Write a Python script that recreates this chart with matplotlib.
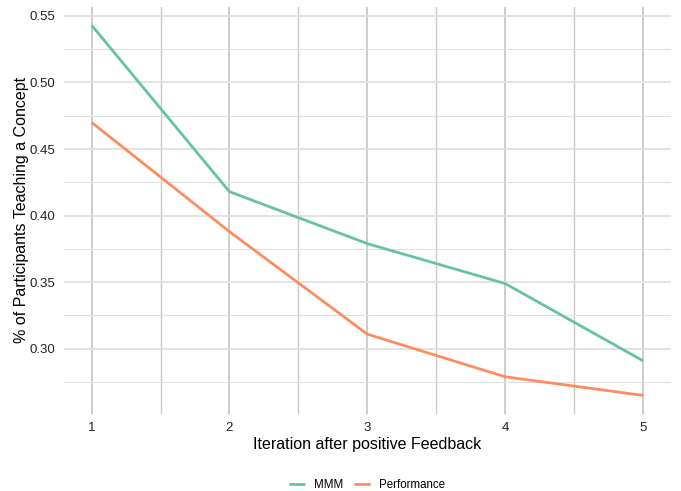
import matplotlib
matplotlib.use("Agg")
import matplotlib.pyplot as plt
from matplotlib.ticker import MultipleLocator

plt.rcParams['font.family'] = ['Liberation Sans', 'DejaVu Sans']

# 数据：从图中读取
iterations = [1, 2, 3, 4, 5]
mmm = [0.543, 0.418, 0.379, 0.349, 0.291]
performance = [0.470, 0.388, 0.311, 0.279, 0.265]

series_names = ["MMM", "Performance"]
series_colors = ["#66C2A5", "#FC8D62"]

fig = plt.figure(figsize=(6.81, 4.91), dpi=100)
ax = fig.add_axes([0.094, 0.157, 0.8906, 0.8294])

for values, name, color in zip([mmm, performance], series_names, series_colors):
    ax.plot(iterations, values, color=color, linewidth=2.0, label=name,
            solid_capstyle="butt", zorder=3)

ax.set_xlim(0.8, 5.2)
ax.set_ylim(0.2511, 0.5569)

ax.xaxis.set_major_locator(MultipleLocator(1))
ax.xaxis.set_minor_locator(MultipleLocator(0.5))
ax.yaxis.set_major_locator(MultipleLocator(0.05))
ax.yaxis.set_minor_locator(MultipleLocator(0.025))
ax.yaxis.set_major_formatter(plt.FuncFormatter(lambda v, p: f"{v:.2f}"))

# 网格线：横线浅，竖线深
ax.grid(which="major", axis="y", color="#E0E0E0", linewidth=1.3)
ax.grid(which="minor", axis="y", color="#E0E0E0", linewidth=0.8)
ax.grid(which="major", axis="x", color="#C8C8C8", linewidth=1.3)
ax.grid(which="minor", axis="x", color="#C8C8C8", linewidth=1.0)
ax.set_axisbelow(True)

for s in ax.spines.values():
    s.set_visible(False)
ax.tick_params(which="both", length=0, labelsize=9.5, labelcolor="#222222")
ax.tick_params(axis="y", pad=6)
ax.tick_params(axis="x", pad=6)

ax.set_xlabel("Iteration after positive Feedback", fontsize=11.5, labelpad=2)
ax.set_ylabel("% of Participants Teaching a Concept", fontsize=11.5, labelpad=1)

ax.legend(loc="upper center", bbox_to_anchor=(0.5, -0.135), ncol=2, frameon=False,
          fontsize=8.3, handlelength=1.4, columnspacing=0.9, handletextpad=0.8)

fig.savefig("out.png", dpi=100)
